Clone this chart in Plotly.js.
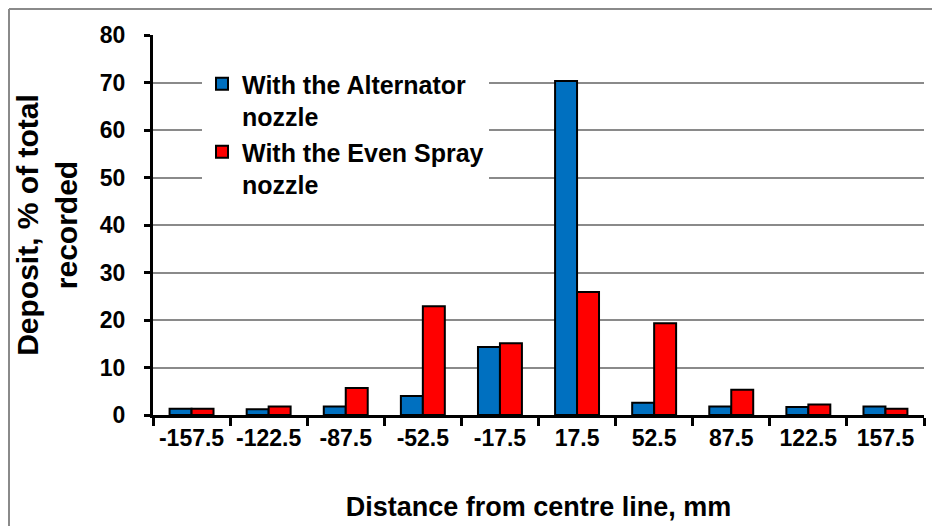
<!DOCTYPE html>
<html>
<head>
<meta charset="utf-8">
<script src="https://cdn.plot.ly/plotly-3.0.1.min.js"></script>
<style>
html,body{margin:0;padding:0;background:#fff;}
#chart{width:932px;height:526px;}
</style>
</head>
<body>
<div id="chart"></div>
<script>
const categories = ['-157.5','-122.5','-87.5','-52.5','-17.5','17.5','52.5','87.5','122.5','157.5'];
const alternator = [1.3, 1.2, 1.8, 4.0, 14.3, 70.3, 2.6, 1.8, 1.7, 1.8];
const evenSpray = [1.3, 1.8, 5.7, 22.9, 15.1, 25.9, 19.3, 5.3, 2.2, 1.3];
const seriesNames = ['With the Alternator<br>nozzle', 'With the Even Spray<br>nozzle'];
const yTicks = [0,10,20,30,40,50,60,70,80];

const FONT = 'Arial, "Liberation Sans", sans-serif';

const traces = [
  {type:'bar', x:categories, y:alternator, name:seriesNames[0],
   marker:{color:'#0070C0', line:{color:'#000', width:2}}},
  {type:'bar', x:categories, y:evenSpray, name:seriesNames[1],
   marker:{color:'#FF0000', line:{color:'#000', width:2}}}
];

// plot area: x 153..924, y 35..415
const L=153, R=924, T=35, B=415;
const px = v => (v - L)/(R - L);
const py = v => (B - v)/(B - T);

const layout = {
  width:932, height:526,
  margin:{l:L, r:932-R, t:T, b:526-B},
  paper_bgcolor:'#fff', plot_bgcolor:'#fff',
  font:{family:FONT, color:'#000', weight:'bold'},
  barmode:'group', bargap:0.43, bargroupgap:0,
  showlegend:true,
  legend:{x:px(202), y:py(61), xanchor:'left', yanchor:'top',
          bgcolor:'#fff', borderwidth:0, valign:'top',
          font:{family:FONT, size:25, color:'#000', weight:'bold'},
          tracegroupgap:0},
  xaxis:{type:'category', showline:true, linecolor:'#000', linewidth:3,
         ticks:'outside', ticklen:8, tickwidth:3, tickcolor:'#000', tickson:'boundaries',
         showgrid:false, zeroline:false, tickangle:0,
         tickfont:{family:FONT, size:23, color:'#000', weight:'bold'},
         title:{text:'Distance from centre line, mm', font:{family:FONT, size:27, color:'#000', weight:'bold'}, standoff:48}},
  yaxis:{range:[0,80], tickvals:yTicks, showline:true, linecolor:'#000', linewidth:3,
         ticks:'outside', ticklen:6, tickwidth:3, tickcolor:'#000',
         showgrid:true, gridcolor:'#8a8a8a', gridwidth:2, zeroline:false,
         ticklabelstandoff:14,
         tickfont:{family:FONT, size:23, color:'#000', weight:'bold'},
         title:{text:'Deposit, % of total<br>recorded', font:{family:FONT, size:30, color:'#000', weight:'bold'}, standoff:14}},
  shapes:[
    {type:'line', xref:'paper', yref:'paper', x0:px(9), x1:px(940), y0:py(9), y1:py(9), line:{color:'#8a8a8a', width:2}},
    {type:'line', xref:'paper', yref:'paper', x0:px(9), x1:px(9), y0:py(9), y1:py(540), line:{color:'#8a8a8a', width:2}}
  ]
};

Plotly.newPlot('chart', traces, layout, {displayModeBar:false, responsive:false});
</script>
</body>
</html>
